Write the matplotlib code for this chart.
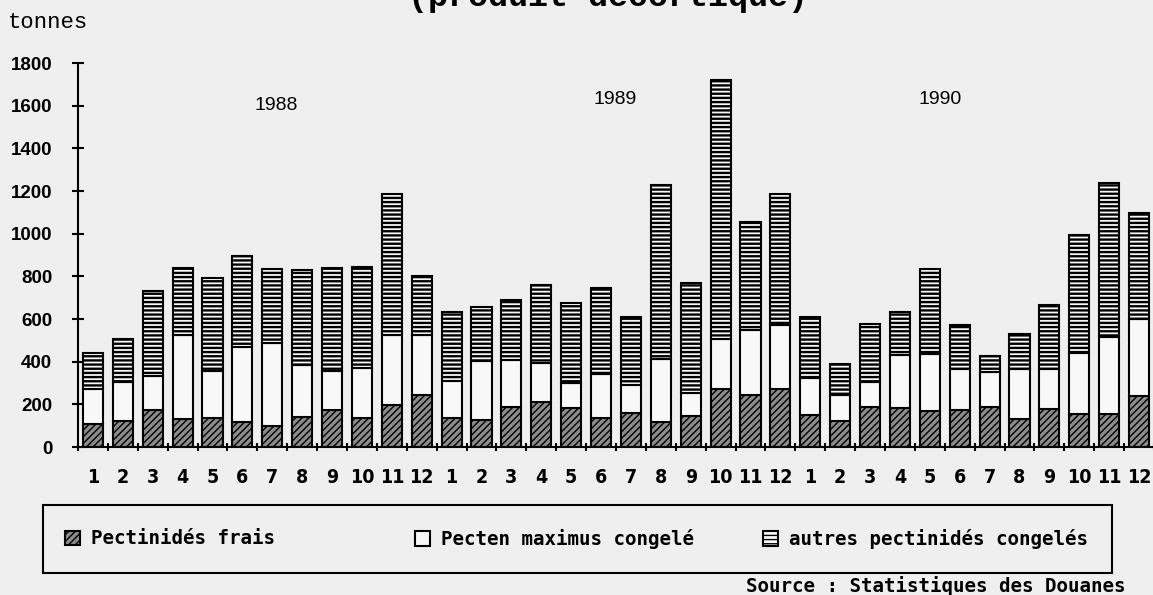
import numpy as np
import matplotlib
matplotlib.use("Agg")
import matplotlib.pyplot as plt
from matplotlib.patches import Rectangle
from matplotlib import font_manager

# monthly imports, tonnes
months = list(range(1, 13)) * 3
years = ['1988', '1989', '1990']

frais = [110, 120, 175, 131, 135, 118, 99, 142, 175, 138, 198, 244,
         134, 128, 189, 213, 181, 134, 159, 115, 146, 272, 244, 272,
         151, 123, 189, 183, 167, 173, 189, 131, 176, 154, 154, 241]
pecten = [162, 187, 159, 392, 219, 351, 389, 241, 179, 234, 325, 279,
          175, 275, 221, 181, 118, 209, 132, 299, 108, 233, 304, 300,
          173, 121, 115, 247, 271, 194, 162, 236, 191, 287, 362, 357]
autres = [169, 198, 395, 316, 438, 425, 347, 445, 485, 472, 663, 280,
          325, 255, 280, 365, 378, 400, 318, 816, 517, 1216, 505, 615,
          284, 145, 271, 204, 397, 203, 74, 162, 299, 551, 720, 499]

labels = ['Pectinidés frais', 'Pecten maximus congelé', 'autres pectinidés congelés']

names = {f.name for f in font_manager.fontManager.ttflist}
narrow = 'Liberation Sans Narrow' if 'Liberation Sans Narrow' in names else 'DejaVu Sans'

bg = '#efefef'
W, H = 1153, 595
fig = plt.figure(figsize=(W / 100, H / 100), dpi=100, facecolor=bg)
ax = fig.add_axes([78 / W, 148 / H, 1076 / W, 384 / H], facecolor=bg)

x = np.arange(len(frais))
f = np.array(frais)
p = np.array(pecten)
a = np.array(autres)

bw = 0.67
b1 = ax.bar(x, f, width=bw, facecolor='#8c8c8c', edgecolor='black', lw=1.5, hatch='/////')
b2 = ax.bar(x, p, bottom=f, width=bw, facecolor='#f8f8f8', edgecolor='black', lw=1.5)
b3 = ax.bar(x, a, bottom=f + p, width=bw, facecolor='#f8f8f8', edgecolor='black', lw=1.5, hatch='----')
for bars, hl in ((b1, 1.0), (b3, 1.7)):
    for r in bars:
        if hasattr(r, 'set_hatch_linewidth'):
            r.set_hatch_linewidth(hl)

ax.set_xlim(-0.5, len(frais) - 0.5)
ax.set_ylim(0, 1800)
for s in ('top', 'right'):
    ax.spines[s].set_visible(False)
for s in ('left', 'bottom'):
    ax.spines[s].set_linewidth(1.5)

ax.set_yticks(np.arange(0, 1801, 200))
ax.tick_params(axis='y', direction='inout', length=9, width=1.5, pad=14)
for t in ax.get_yticklabels():
    t.set_fontfamily('Liberation Sans')
    t.set_fontweight('bold')
    t.set_fontsize(13.5)

ax.set_xticks(x)
ax.set_xticklabels([str(m) for m in months], fontfamily=narrow, fontstretch='condensed',
                   fontweight='bold', fontsize=14)
ax.set_xticks(np.arange(-0.5, len(frais), 1), minor=True)
ax.tick_params(axis='x', which='major', length=0, pad=15)
ax.tick_params(axis='x', which='minor', direction='inout', length=6, width=1.5)

# year labels
year_pos = [(6.14, 1603), (17.46, 1629), (28.33, 1629)]
for (xp, yp), yr in zip(year_pos, years):
    ax.text(xp, yp, yr, ha='center', va='center', fontfamily='Liberation Sans', fontsize=14)

fig.text(0.527, 1 - 6 / H, '(produit décortiqué)', ha='center', va='baseline',
         fontfamily='Liberation Mono', fontweight='bold', fontsize=24)
fig.text(8 / W, 1 - 22 / H, 'tonnes', ha='left', va='center',
         fontfamily='Liberation Mono', fontsize=16)

# legend, framed box below the axis
fig.add_artist(Rectangle((43 / W, 1 - 573 / H), (1112 - 43) / W, 68 / H,
                         transform=fig.transFigure, fill=False, lw=1.5, edgecolor='black'))
prop = {'family': 'DejaVu Sans Mono', 'weight': 'bold', 'size': 13.8}
for h, lab, lx in zip((b1, b2, b3), labels, (65, 415, 763)):
    fig.legend([h], [lab], loc='center left', bbox_to_anchor=(lx / W, 1 - 539 / H),
               frameon=False, borderpad=0, borderaxespad=0, handlelength=0.8,
               handleheight=0.8, handletextpad=0.55, prop=prop)

fig.text(1125 / W, 1 - 586 / H, 'Source : Statistiques des Douanes', ha='right', va='center',
         fontfamily='DejaVu Sans Mono', fontweight='bold', fontsize=13.8)

fig.savefig('out.png', dpi=100, facecolor=bg)
